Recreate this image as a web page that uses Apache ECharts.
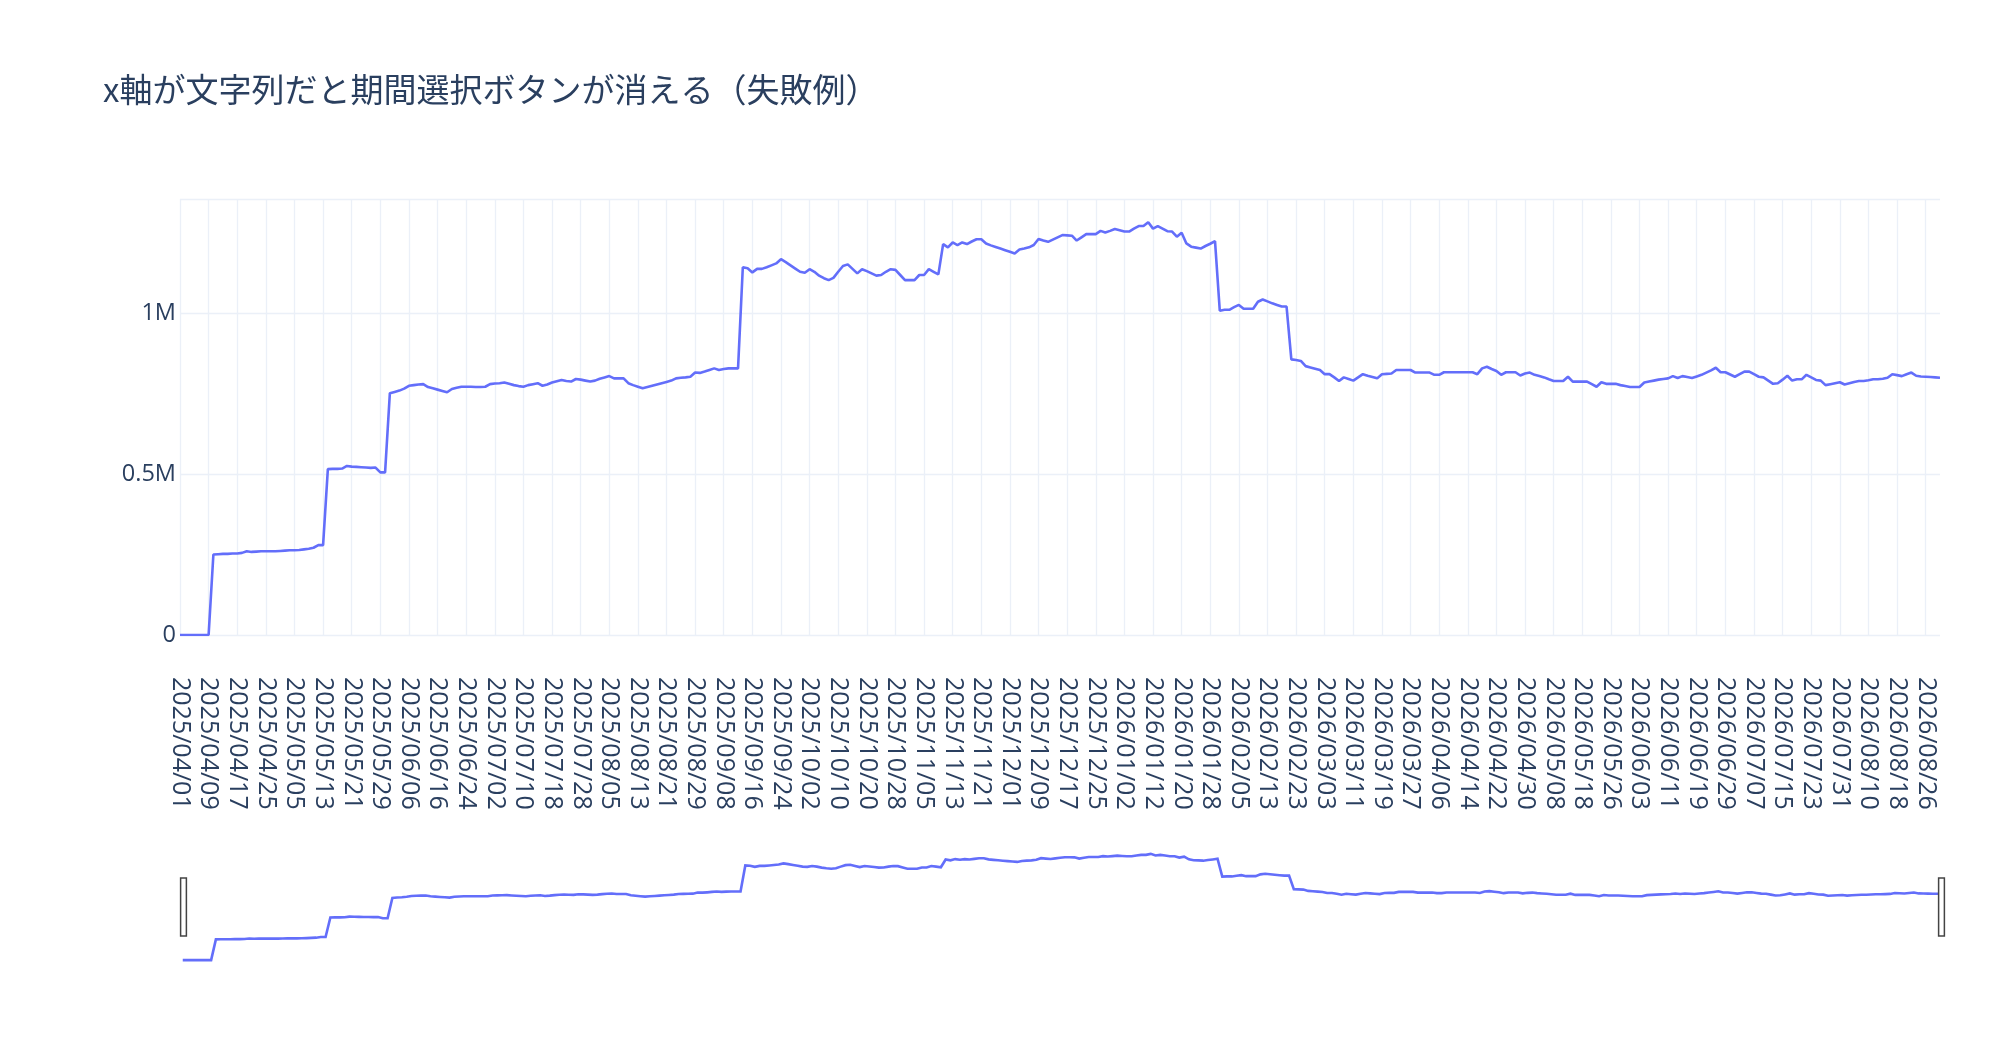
<!DOCTYPE html>
<html><head><meta charset="utf-8">
<script src="https://cdn.jsdelivr.net/npm/echarts@6/dist/echarts.min.js"></script>
<style>html,body{margin:0;padding:0;background:#fff}#c{width:2000px;height:1040px}</style>
</head><body><div id="c"></div>
<script>
const titleText = "x軸が文字列だと期間選択ボタンが消える（失敗例）";
const startDate = "2025-04-01";
const endDate = "2026-08-31";
// weekday categories (string axis)
const categories = [];
for (let d = new Date(startDate + "T00:00:00Z"); d <= new Date(endDate + "T00:00:00Z"); d.setUTCDate(d.getUTCDate() + 1)) {
  const w = d.getUTCDay();
  if (w === 0 || w === 6) continue;
  categories.push(d.getUTCFullYear() + "/" + String(d.getUTCMonth() + 1).padStart(2, "0") + "/" + String(d.getUTCDate()).padStart(2, "0"));
}
// values in thousands
const valuesK = [
0,0,0,0,0,0,0,250,251,252,
252,253,253,255,260,258,259,260,260,260,
260,261,262,263,263,264,266,268,271,279,
279,515,516,516,517,525,523,522,521,520,
519,520,505,505,751,755,759,765,774,776,
778,779,770,766,762,758,754,764,768,771,
771,771,770,770,771,779,781,782,784,780,
776,773,771,776,779,782,774,778,784,788,
792,789,787,795,793,790,787,790,796,800,
804,797,797,797,782,776,771,766,770,774,
778,782,786,790,797,799,800,802,815,814,
818,823,828,823,826,828,828,828,1142,1139,
1126,1137,1137,1142,1148,1154,1167,1158,1148,1138,
1128,1125,1136,1128,1116,1108,1102,1109,1128,1146,
1151,1137,1123,1136,1130,1123,1116,1118,1128,1136,
1134,1118,1102,1102,1102,1118,1118,1136,1128,1120,
1214,1204,1219,1211,1219,1214,1222,1229,1229,1216,
1210,1205,1200,1195,1190,1185,1197,1200,1204,1211,
1230,1225,1221,1228,1235,1242,1241,1240,1225,1235,
1245,1245,1245,1255,1250,1255,1261,1257,1253,1253,
1262,1270,1270,1282,1262,1270,1262,1254,1253,1237,
1249,1216,1206,1203,1200,1208,1215,1223,1007,1010,
1010,1018,1025,1013,1013,1013,1035,1042,1036,1030,
1025,1020,1020,856,854,851,835,831,827,823,
810,810,800,789,800,795,790,800,810,805,
801,797,810,811,812,823,823,823,823,815,
815,815,815,808,808,816,816,816,816,816,
816,816,810,828,833,826,820,808,816,816,
816,806,812,815,808,804,800,794,789,789,
789,802,787,787,787,787,779,771,785,780,
780,780,776,773,770,770,770,784,787,790,
793,795,797,804,798,804,801,798,803,808,
815,822,830,816,816,809,802,810,818,818,
810,802,800,790,780,782,793,805,790,794,
794,808,800,792,790,776,779,782,785,778,
782,786,789,789,791,794,794,796,799,810,
807,804,810,815,805,803,802,801,800,799
];
const values = valuesK.map(v => v * 1000);
const yTicks = {0: "0", 500000: "0.5M", 1000000: "1M"};

const chart = echarts.init(document.getElementById("c"), null, {renderer: "canvas"});
chart.setOption({
  animation: false,
  backgroundColor: "#fff",
  title: {text: titleText, left: 98, top: 68,
    textStyle: {fontFamily: "'Noto Sans CJK JP','Open Sans',sans-serif", fontSize: 33, fontWeight: "normal", color: "#2a3f5f"}},
  grid: {left: 180, right: 60, top: 199, bottom: 1040 - 635},
  xAxis: {
    type: "category", data: categories, boundaryGap: false,
    axisLine: {show: false}, axisTick: {show: false},
    axisLabel: {interval: 5, rotate: -90, margin: 42, color: "#2a3f5f", fontSize: 25, fontFamily: "'Open Sans',sans-serif"},
    splitLine: {show: true, interval: 5, lineStyle: {color: "#EBF0F8", width: 1.3}}
  },
  yAxis: {
    type: "value", min: 0, max: 1354000, interval: 500000,
    axisLine: {show: false}, axisTick: {show: false},
    axisLabel: {margin: 4, color: "#2a3f5f", fontSize: 23.5, fontFamily: "'Open Sans',sans-serif", showMaxLabel: false,
      formatter: v => (v in yTicks ? yTicks[v] : "")},
    splitLine: {lineStyle: {color: "#EBF0F8", width: 1.3}}
  },
  dataZoom: [{
    type: "slider", xAxisIndex: 0, start: 0, end: 100,
    left: 180, right: 60, top: 822, height: 170,
    backgroundColor: "transparent", borderColor: "transparent", fillerColor: "transparent",
    showDetail: false, brushSelect: false, moveHandleSize: 0,
    handleIcon: "path://M0,0 L10,0 L10,100 L0,100 Z", handleSize: "34%",
    handleStyle: {color: "#fff", borderColor: "#444", borderWidth: 1.5},
    dataBackground: {lineStyle: {color: "#636efa", width: 2.6, opacity: 1}, areaStyle: {opacity: 0}},
    selectedDataBackground: {lineStyle: {color: "#636efa", width: 2.6, opacity: 1}, areaStyle: {opacity: 0}},
    emphasis: {handleStyle: {borderColor: "#444"}}
  }],
  series: [{
    type: "line", data: values, showSymbol: false, symbol: "none",
    lineStyle: {color: "#636efa", width: 2.6}, itemStyle: {color: "#636efa"}
  }]
});
</script></body></html>
